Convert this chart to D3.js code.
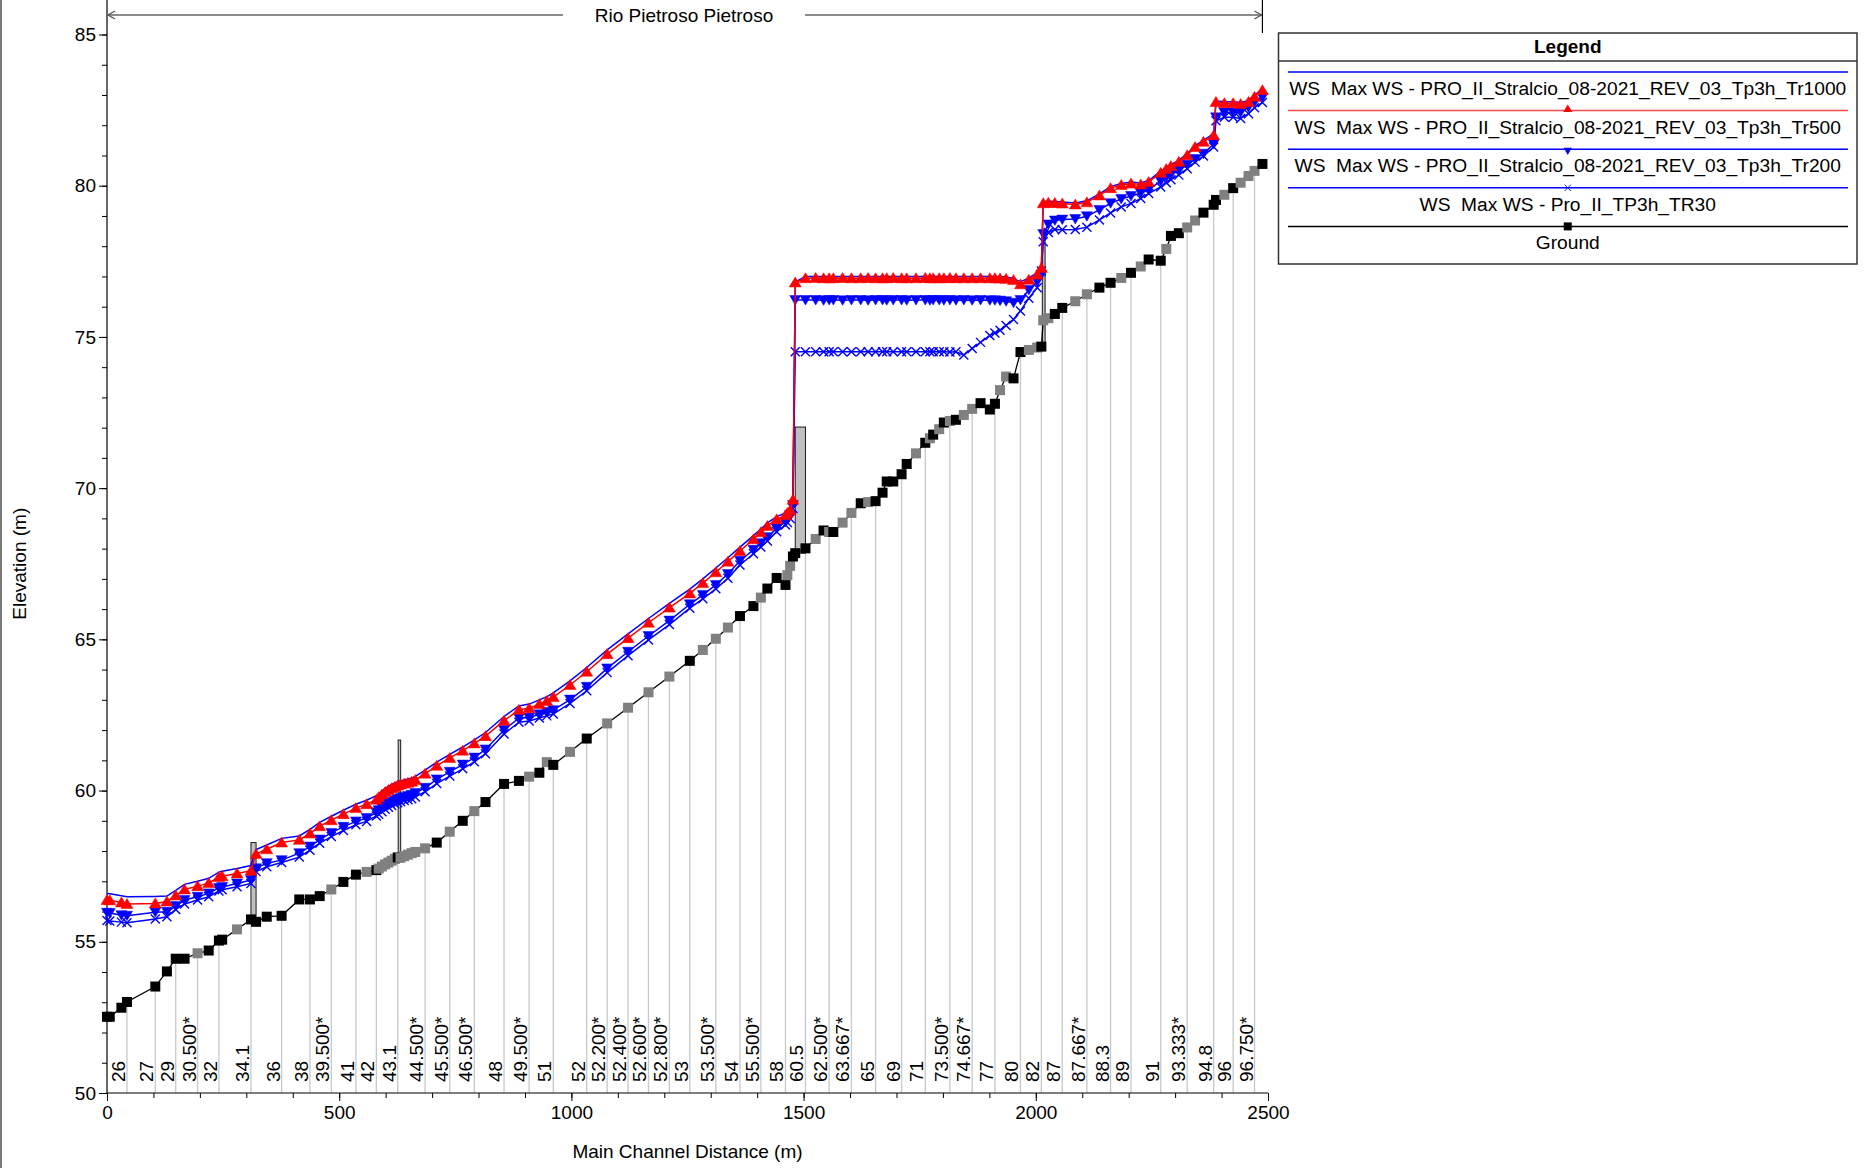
<!DOCTYPE html>
<html>
<head>
<meta charset="utf-8">
<script src="https://cdn.jsdelivr.net/npm/d3@7"></script>
<style>
  html, body { margin: 0; padding: 0; background: #ffffff; }
  svg { display: block; font-family: "Liberation Sans", Arial, Helvetica, sans-serif; }
</style>
</head>
<body>
<svg id="chart" width="1865" height="1168"></svg>
<script>
// ---- Cross-section stations along the main channel (m) ----
const stations = [
  0, 6, 31, 43, 104, 129, 148, 167, 195, 219,
  241, 248, 280, 310, 321, 344, 376, 414, 437, 458,
  483, 509, 536, 559, 580, 585, 592, 599, 606, 613,
  620, 626, 632, 640, 648, 656, 664, 685, 710, 738,
  766, 791, 815, 855, 887, 909, 931, 947, 961, 997,
  1033, 1077, 1122, 1166, 1211, 1255, 1283, 1311, 1337, 1363,
  1392, 1408, 1422, 1442, 1461, 1465, 1471, 1477, 1482, 1504,
  1526, 1543, 1555, 1564, 1584, 1603, 1623, 1639, 1655, 1670,
  1679, 1693, 1711, 1722, 1742, 1762, 1772, 1779, 1792, 1802,
  1815, 1828, 1845, 1863, 1881, 1901, 1912, 1923, 1936, 1952,
  1967, 1985, 2003, 2012, 2016, 2027, 2041, 2057, 2085, 2110,
  2137, 2161, 2184, 2205, 2226, 2243, 2269, 2281, 2291, 2308,
  2326, 2343, 2361, 2383, 2388, 2406, 2425, 2441, 2458, 2471,
  2488
];

// Channel invert (ground) elevation at each station (m)
const ground = [
  52.52, 52.52, 52.82, 53.01, 53.52, 54.02, 54.44, 54.44, 54.62, 54.71,
  55.04, 55.07, 55.41, 55.74, 55.66, 55.83, 55.86, 56.40, 56.40, 56.51,
  56.73, 56.98, 57.22, 57.31, 57.37, 57.42, 57.49, 57.56, 57.62, 57.68,
  57.74, 57.79, 57.78, 57.83, 57.88, 57.93, 57.97, 58.09, 58.28, 58.64,
  59.00, 59.32, 59.62, 60.22, 60.32, 60.46, 60.59, 60.94, 60.85, 61.28,
  61.72, 62.22, 62.74, 63.25, 63.77, 64.29, 64.65, 65.02, 65.39, 65.77,
  66.10, 66.38, 66.68, 67.03, 66.80, 67.12, 67.43, 67.74, 67.85, 68.01,
  68.32, 68.60, 68.55, 68.55, 68.86, 69.18, 69.50, 69.54, 69.57, 69.85,
  70.22, 70.22, 70.46, 70.80, 71.15, 71.50, 71.65, 71.77, 71.95, 72.17,
  72.22, 72.26, 72.42, 72.62, 72.81, 72.60, 72.79, 73.24, 73.69, 73.63,
  74.50, 74.57, 74.65, 74.68, 75.55, 75.62, 75.76, 75.96, 76.18, 76.41,
  76.63, 76.79, 76.95, 77.12, 77.33, 77.56, 77.52, 77.91, 78.34, 78.43,
  78.62, 78.85, 79.11, 79.37, 79.53, 79.70, 79.92, 80.10, 80.32, 80.49,
  80.72
];

// 1 = interpolated cross section (drawn grey), 0 = surveyed
const interpolated = [
  0, 0, 0, 0, 0, 0, 0, 0, 1, 0,
  0, 0, 1, 0, 0, 0, 0, 0, 0, 0,
  1, 0, 0, 1, 0, 1, 1, 1, 1, 1,
  1, 0, 1, 1, 1, 1, 1, 1, 0, 1,
  0, 1, 0, 0, 0, 1, 0, 1, 0, 1,
  0, 1, 1, 1, 1, 0, 1, 1, 1, 0,
  0, 1, 0, 0, 0, 1, 1, 0, 0, 0,
  1, 0, 1, 0, 1, 1, 0, 1, 0, 0,
  0, 0, 0, 0, 1, 0, 1, 0, 1, 0,
  1, 0, 1, 1, 0, 0, 0, 1, 1, 0,
  0, 1, 1, 0, 1, 1, 0, 0, 1, 1,
  0, 0, 1, 0, 1, 0, 0, 1, 0, 0,
  1, 1, 0, 0, 0, 1, 0, 1, 1, 1,
  0
];

// Max water surface, Tr1000 (m)
const wsTr1000 = [
  56.60, 56.59, 56.52, 56.49, 56.50, 56.51, 56.70, 56.90, 57.00, 57.10,
  57.30, 57.33, 57.42, 57.52, 58.05, 58.20, 58.42, 58.50, 58.72, 58.95,
  59.15, 59.35, 59.55, 59.68, 59.83, 59.90, 59.99, 60.07, 60.14, 60.20,
  60.25, 60.29, 60.32, 60.35, 60.38, 60.41, 60.47, 60.68, 60.94, 61.20,
  61.44, 61.68, 61.92, 62.45, 62.80, 62.86, 63.00, 63.10, 63.23, 63.63,
  64.07, 64.65, 65.18, 65.69, 66.19, 66.66, 67.00, 67.36, 67.70, 68.05,
  68.43, 68.65, 68.85, 69.06, 69.18, 69.26, 69.35, 69.70, 76.82, 77.00,
  77.00, 77.00, 77.00, 77.00, 77.00, 77.00, 77.00, 77.00, 77.00, 77.00,
  77.00, 77.00, 77.00, 77.00, 77.00, 77.00, 77.00, 77.00, 77.00, 77.00,
  77.00, 77.00, 77.00, 77.00, 77.00, 77.00, 77.00, 76.99, 76.98, 76.93,
  76.82, 76.95, 77.12, 77.35, 79.48, 79.49, 79.48, 79.46, 79.43, 79.50,
  79.73, 79.97, 80.07, 80.12, 80.09, 80.17, 80.48, 80.60, 80.70, 80.84,
  81.06, 81.33, 81.50, 81.72, 82.81, 82.78, 82.78, 82.75, 82.82, 82.99,
  83.21
];

// Max water surface, Tr500 (m)
const wsTr500 = [
  56.38, 56.37, 56.30, 56.25, 56.27, 56.33, 56.53, 56.73, 56.84, 56.94,
  57.14, 57.17, 57.26, 57.35, 57.90, 58.06, 58.28, 58.37, 58.58, 58.82,
  59.02, 59.22, 59.42, 59.55, 59.70, 59.78, 59.87, 59.95, 60.02, 60.08,
  60.13, 60.17, 60.20, 60.23, 60.26, 60.29, 60.35, 60.56, 60.82, 61.08,
  61.32, 61.56, 61.80, 62.31, 62.67, 62.72, 62.86, 62.96, 63.09, 63.49,
  63.93, 64.51, 65.04, 65.55, 66.05, 66.52, 66.86, 67.22, 67.57, 67.92,
  68.31, 68.54, 68.75, 68.97, 69.10, 69.18, 69.27, 69.62, 76.80, 76.94,
  76.95, 76.94, 76.94, 76.94, 76.95, 76.94, 76.94, 76.95, 76.94, 76.94,
  76.94, 76.95, 76.94, 76.94, 76.94, 76.95, 76.94, 76.94, 76.94, 76.94,
  76.95, 76.94, 76.94, 76.94, 76.94, 76.94, 76.94, 76.93, 76.92, 76.88,
  76.74, 76.89, 77.06, 77.28, 79.42, 79.44, 79.43, 79.41, 79.38, 79.45,
  79.68, 79.92, 80.02, 80.07, 80.04, 80.12, 80.43, 80.55, 80.65, 80.79,
  81.01, 81.28, 81.45, 81.67, 82.77, 82.73, 82.73, 82.70, 82.77, 82.94,
  83.16
];

// Max water surface, Tr200 (m)
const wsTr200 = [
  55.96, 55.95, 55.88, 55.86, 55.98, 55.99, 56.18, 56.38, 56.49, 56.60,
  56.78, 56.81, 56.93, 57.04, 57.43, 57.60, 57.70, 57.93, 58.15, 58.38,
  58.60, 58.80, 58.98, 59.09, 59.28, 59.35, 59.43, 59.50, 59.57, 59.63,
  59.68, 59.72, 59.75, 59.79, 59.82, 59.86, 59.92, 60.09, 60.37, 60.62,
  60.86, 61.09, 61.36, 62.00, 62.40, 62.42, 62.52, 62.60, 62.66, 63.01,
  63.43, 64.04, 64.59, 65.11, 65.62, 66.16, 66.47, 66.80, 67.16, 67.60,
  67.96, 68.18, 68.38, 68.67, 68.89, 68.97, 69.11, 69.44, 76.22, 76.22,
  76.22, 76.21, 76.22, 76.22, 76.21, 76.22, 76.22, 76.21, 76.22, 76.22,
  76.21, 76.22, 76.22, 76.21, 76.22, 76.22, 76.21, 76.22, 76.22, 76.21,
  76.22, 76.21, 76.22, 76.21, 76.22, 76.21, 76.21, 76.20, 76.18, 76.13,
  76.22, 76.55, 76.82, 77.05, 78.40, 78.72, 78.85, 78.88, 78.90, 78.99,
  79.20, 79.42, 79.56, 79.66, 79.75, 79.87, 80.15, 80.28, 80.36, 80.50,
  80.69, 80.88, 81.06, 81.38, 82.26, 82.42, 82.42, 82.42, 82.59, 82.75,
  82.92
];

// Max water surface, TR30 (m)
const wsTr30 = [
  55.70, 55.69, 55.65, 55.63, 55.75, 55.83, 56.07, 56.25, 56.38, 56.49,
  56.68, 56.72, 56.82, 56.93, 57.32, 57.48, 57.62, 57.80, 58.03, 58.26,
  58.48, 58.68, 58.87, 58.98, 59.16, 59.22, 59.30, 59.38, 59.45, 59.51,
  59.56, 59.60, 59.63, 59.67, 59.70, 59.73, 59.79, 59.96, 60.23, 60.48,
  60.72, 60.95, 61.22, 61.87, 62.26, 62.30, 62.40, 62.47, 62.53, 62.88,
  63.30, 63.90, 64.46, 64.98, 65.49, 66.03, 66.34, 66.67, 67.02, 67.46,
  67.83, 68.05, 68.25, 68.56, 68.78, 68.86, 69.00, 69.33, 74.51, 74.51,
  74.51, 74.51, 74.51, 74.51, 74.51, 74.51, 74.51, 74.51, 74.51, 74.51,
  74.51, 74.51, 74.51, 74.51, 74.51, 74.51, 74.51, 74.51, 74.51, 74.51,
  74.50, 74.51, 74.40, 74.62, 74.82, 75.05, 75.13, 75.22, 75.38, 75.58,
  75.86, 76.28, 76.63, 77.18, 78.15, 78.45, 78.55, 78.54, 78.55, 78.63,
  78.87, 79.10, 79.30, 79.41, 79.58, 79.74, 79.96, 80.10, 80.20, 80.35,
  80.56, 80.78, 80.98, 81.28, 82.15, 82.26, 82.26, 82.22, 82.38, 82.58,
  82.75
];

// Labelled river stations and where they sit along the channel (m)
const sectionLabels = [
  "26", "27", "29", "30.500*", "32", "34.1", "36", "38", "39.500*", "41",
  "42", "43.1", "44.500*", "45.500*", "46.500*", "48", "49.500*", "51", "52", "52.200*",
  "52.400*", "52.600*", "52.800*", "53", "53.500*", "54", "55.500*", "58", "60.5", "62.500*",
  "63.667*", "65", "69", "71", "73.500*", "74.667*", "77", "80", "82", "87",
  "87.667*", "88.3", "89", "91", "93.333*", "94.8", "96", "96.750*"
];
const sectionLabelStations = [
  43, 104, 148, 195, 241, 310, 376, 437, 483, 536,
  580, 626, 685, 738, 791, 855, 909, 961, 1033, 1077,
  1122, 1166, 1211, 1255, 1311, 1363, 1408, 1461, 1504, 1555,
  1603, 1655, 1711, 1762, 1815, 1863, 1912, 1967, 2012, 2057,
  2110, 2161, 2205, 2269, 2326, 2383, 2425, 2471
];

// Bridges / culverts / inline structures: extent along channel and elevation span (m)
const structureStart  = [310, 627, 1482, 2014];
const structureEnd    = [321, 632, 1504, 2020];
const structureBottom = [55.70, 57.80, 67.85, 74.68];
const structureTop    = [58.28, 61.67, 72.02, 78.30];

// Axis ticks
const xMajorTicks = [0, 500, 1000, 1500, 2000, 2500];
const yMajorTicks = [50, 55, 60, 65, 70, 75, 80, 85];

const reachName = "Rio Pietroso Pietroso";
const reachEnd = 2488;

const legendNames = [
  "WS  Max WS - PRO_II_Stralcio_08-2021_REV_03_Tp3h_Tr1000",
  "WS  Max WS - PRO_II_Stralcio_08-2021_REV_03_Tp3h_Tr500",
  "WS  Max WS - PRO_II_Stralcio_08-2021_REV_03_Tp3h_Tr200",
  "WS  Max WS - Pro_II_TP3h_TR30",
  "Ground"
];

// ---------------------------------------------------------------
const svg = d3.select("#chart");
const FONT = 19;

const x = d3.scaleLinear().domain([0, 2500]).range([107, 1268]);
const y = d3.scaleLinear().domain([50, 85]).range([1093, 34.5]);

// window edge on the left
svg.append("line").attr("x1", 1).attr("x2", 1).attr("y1", 0).attr("y2", 1168)
  .attr("stroke", "#7a7a7a").attr("stroke-width", 2);

// ---- station label lines and names ----
const groundAt = d3.scaleLinear().domain(stations).range(ground);
const labelG = svg.append("g");
labelG.selectAll("line").data(sectionLabelStations).join("line")
  .attr("x1", d => x(d)).attr("x2", d => x(d))
  .attr("y1", d => y(groundAt(d))).attr("y2", y(50))
  .attr("stroke", "#c8c8c8").attr("stroke-width", 1.3);
labelG.selectAll("text").data(sectionLabels).join("text")
  .attr("transform", (d, i) => `translate(${x(sectionLabelStations[i]) - 2},${y(50) - 11}) rotate(-90)`)
  .attr("font-size", FONT).attr("fill", "#000")
  .text(d => d);

// ---- axes ----
function styleAxis(g) {
  g.selectAll("text").attr("font-size", FONT).attr("font-family", "'Liberation Sans', Arial, sans-serif").attr("fill", "#000");
  g.selectAll("line").attr("stroke", "#000");
  g.select(".domain").remove();
}
const yMinor = d3.range(50, 86, 1);
const xMinor = d3.range(0, 2501, 100);

svg.append("g").attr("transform", `translate(${x(0)},0)`)
  .call(d3.axisLeft(y).tickValues(yMinor).tickSize(5).tickFormat(""))
  .call(styleAxis);
svg.append("g").attr("transform", `translate(${x(0)},0)`)
  .call(d3.axisLeft(y).tickValues(yMajorTicks).tickSize(8).tickPadding(3).tickFormat(d3.format("d")))
  .call(styleAxis);
svg.append("g").attr("transform", `translate(0,${y(50)})`)
  .call(d3.axisBottom(x).tickValues(xMinor).tickSize(5).tickFormat(""))
  .call(styleAxis);
svg.append("g").attr("transform", `translate(0,${y(50)})`)
  .call(d3.axisBottom(x).tickValues(xMajorTicks).tickSize(8).tickPadding(5).tickFormat(d3.format("d")))
  .call(styleAxis);

// axis lines
svg.append("line").attr("x1", x(0)).attr("x2", x(0)).attr("y1", 0).attr("y2", y(50))
  .attr("stroke", "#000").attr("stroke-width", 1.2);
svg.append("line").attr("x1", x(0)).attr("x2", x(2500)).attr("y1", y(50)).attr("y2", y(50))
  .attr("stroke", "#000").attr("stroke-width", 1.2);

// axis titles
svg.append("text").attr("x", (x(0) + x(2500)) / 2).attr("y", 1158)
  .attr("text-anchor", "middle").attr("font-size", FONT).text("Main Channel Distance (m)");
svg.append("text").attr("transform", `translate(26,${(y(50) + y(85)) / 2}) rotate(-90)`)
  .attr("text-anchor", "middle").attr("font-size", FONT).text("Elevation (m)");

// ---- reach header with arrows ----
const header = svg.append("g");
const hy = 15;
header.append("text").attr("x", 684).attr("y", 21.5).attr("text-anchor", "middle")
  .attr("font-size", FONT).text(reachName);
header.append("line").attr("x1", x(0)).attr("x2", 563).attr("y1", hy).attr("y2", hy)
  .attr("stroke", "#666").attr("stroke-width", 1.5);
header.append("line").attr("x1", 805).attr("x2", x(reachEnd)).attr("y1", hy).attr("y2", hy)
  .attr("stroke", "#666").attr("stroke-width", 1.5);
header.append("path")
  .attr("d", `M${x(0) + 8},${hy - 4}L${x(0) + 1},${hy}L${x(0) + 8},${hy + 4}`)
  .attr("fill", "none").attr("stroke", "#555").attr("stroke-width", 1.3);
header.append("path")
  .attr("d", `M${x(reachEnd) - 8},${hy - 4}L${x(reachEnd) - 1},${hy}L${x(reachEnd) - 8},${hy + 4}`)
  .attr("fill", "none").attr("stroke", "#555").attr("stroke-width", 1.3);
header.append("line").attr("x1", x(reachEnd)).attr("x2", x(reachEnd)).attr("y1", 0).attr("y2", 33)
  .attr("stroke", "#000").attr("stroke-width", 1.2);

// ---- structures ----
svg.append("g").selectAll("rect").data(structureStart).join("rect")
  .attr("x", (d, i) => x(d))
  .attr("width", (d, i) => Math.max(2.5, x(structureEnd[i]) - x(d)))
  .attr("y", (d, i) => y(structureTop[i]))
  .attr("height", (d, i) => y(structureBottom[i]) - y(structureTop[i]))
  .attr("fill", "#c0c0c0").attr("stroke", "#1a1a1a").attr("stroke-width", 1);

// ---- profiles ----
const BLUE = "#0000ff", RED = "#ff0000";
const line = d3.line().x(d => x(d[0])).y(d => y(d[1]));
const pts = arr => stations.map((s, i) => [s, arr[i]]);

const markerPaths = {
  up: "M0,-5.5L6,4.5L-6,4.5Z",
  down: "M0,5L5.5,-4.5L-5.5,-4.5Z",
  cross: "M-4.5,-4.5L4.5,4.5M-4.5,4.5L4.5,-4.5"
};

function drawProfile(arr, color, marker) {
  const g = svg.append("g");
  g.append("path").datum(pts(arr)).attr("d", line)
    .attr("fill", "none").attr("stroke", color).attr("stroke-width", 1.5);
  if (marker) {
    g.selectAll("path.m").data(pts(arr)).join("path").attr("class", "m")
      .attr("transform", d => `translate(${x(d[0])},${y(d[1])})`)
      .attr("d", markerPaths[marker])
      .attr("fill", marker === "cross" ? "none" : color)
      .attr("stroke", color).attr("stroke-width", marker === "cross" ? 1.4 : 0.5);
  }
}
drawProfile(wsTr1000, BLUE, null);
drawProfile(wsTr30, BLUE, "cross");
drawProfile(wsTr200, BLUE, "down");
drawProfile(wsTr500, RED, "up");

// ground
const gg = svg.append("g");
gg.append("path").datum(pts(ground)).attr("d", line)
  .attr("fill", "none").attr("stroke", "#000").attr("stroke-width", 1.3);
gg.selectAll("rect").data(stations).join("rect")
  .attr("x", d => x(d) - 5).attr("y", (d, i) => y(ground[i]) - 5)
  .attr("width", 10).attr("height", 10)
  .attr("fill", (d, i) => interpolated[i] ? "#808080" : "#000");

// ---- legend ----
const lg = svg.append("g");
const L = { x0: 1278.5, x1: 1857, y0: 33, y1: 264, sep: 61 };
lg.append("rect").attr("x", L.x0).attr("y", L.y0).attr("width", L.x1 - L.x0).attr("height", L.y1 - L.y0)
  .attr("fill", "#fff").attr("stroke", "#333").attr("stroke-width", 1.5);
lg.append("line").attr("x1", L.x0).attr("x2", L.x1).attr("y1", L.sep).attr("y2", L.sep)
  .attr("stroke", "#333").attr("stroke-width", 1.5);
const cx = (L.x0 + L.x1) / 2;
lg.append("text").attr("x", cx).attr("y", 53).attr("text-anchor", "middle")
  .attr("font-size", FONT).attr("font-weight", "bold").text("Legend");

const legendColors = [BLUE, "#ff4a4a", BLUE, BLUE, "#000"];
const legendMarkers = [null, "up", "down", "cross", "square"];
legendNames.forEach((name, i) => {
  const ly = 72 + i * 38.6;
  lg.append("line").attr("x1", 1288).attr("x2", 1848).attr("y1", ly).attr("y2", ly)
    .attr("stroke", legendColors[i]).attr("stroke-width", 1.5);
  const m = legendMarkers[i];
  if (m === "square") {
    lg.append("rect").attr("x", cx - 4).attr("y", ly - 4).attr("width", 8).attr("height", 8).attr("fill", "#000");
  } else if (m === "up") {
    lg.append("path").attr("transform", `translate(${cx},${ly - 2}) scale(0.75)`).attr("d", markerPaths.up).attr("fill", RED);
  } else if (m === "down") {
    lg.append("path").attr("transform", `translate(${cx},${ly + 2}) scale(0.75)`).attr("d", markerPaths.down).attr("fill", BLUE);
  } else if (m === "cross") {
    lg.append("path").attr("transform", `translate(${cx},${ly}) scale(0.7)`).attr("d", markerPaths.cross)
      .attr("fill", "none").attr("stroke", BLUE).attr("stroke-width", 1.3);
  }
  lg.append("text").attr("x", cx).attr("y", ly + 23).attr("text-anchor", "middle")
    .attr("font-size", 19.2).style("white-space", "pre").text(name);
});
</script>
</body>
</html>
